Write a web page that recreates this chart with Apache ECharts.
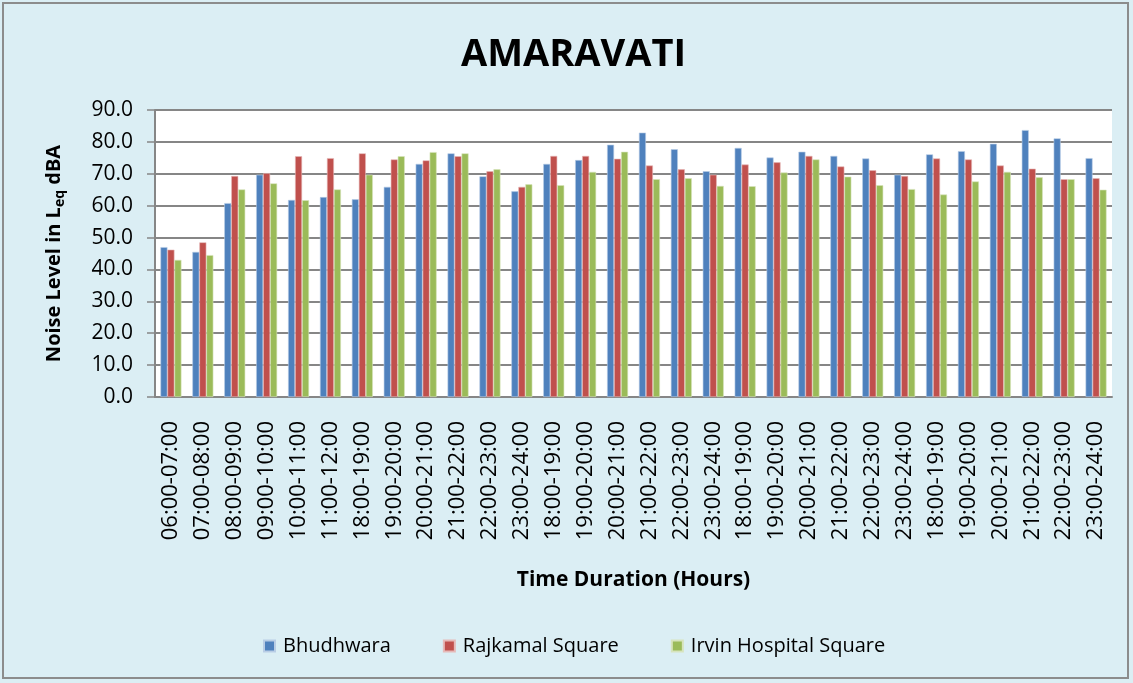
<!DOCTYPE html>
<html>
<head>
<meta charset="utf-8">
<script src="https://cdn.jsdelivr.net/npm/echarts@6/dist/echarts.min.js"></script>
<style>
  html, body { margin: 0; padding: 0; background: #dbeef4; }
  #chart { position: absolute; left: 2px; top: 2px; width: 1127px; height: 677px; border: 2px solid #8c8c8c; box-sizing: border-box; }
</style>
</head>
<body>
<div id="chart"></div>
<script>
(function() {
  var categories = [
    '06:00-07:00', '07:00-08:00', '08:00-09:00', '09:00-10:00', '10:00-11:00', '11:00-12:00',
    '18:00-19:00', '19:00-20:00', '20:00-21:00', '21:00-22:00', '22:00-23:00', '23:00-24:00',
    '18:00-19:00', '19:00-20:00', '20:00-21:00', '21:00-22:00', '22:00-23:00', '23:00-24:00',
    '18:00-19:00', '19:00-20:00', '20:00-21:00', '21:00-22:00', '22:00-23:00', '23:00-24:00',
    '18:00-19:00', '19:00-20:00', '20:00-21:00', '21:00-22:00', '22:00-23:00', '23:00-24:00'
  ];
  var bhudhwara = [47.0, 45.5, 60.8, 69.7, 61.8, 62.7, 62.0, 65.9, 73.1, 76.4, 69.2, 64.5,
    73.1, 74.3, 79.1, 82.9, 77.7, 70.8, 78.1, 75.1, 76.9, 75.6, 74.8, 69.7,
    76.1, 77.1, 79.4, 83.7, 81.1, 74.9];
  var rajkamal = [46.2, 48.5, 69.3, 70.2, 75.5, 74.9, 76.4, 74.5, 74.2, 75.5, 70.8, 65.9,
    75.6, 75.6, 74.7, 72.6, 71.4, 69.7, 72.9, 73.6, 75.6, 72.3, 71.1, 69.3,
    74.8, 74.5, 72.6, 71.6, 68.3, 68.6];
  var irvin = [43.0, 44.5, 65.1, 67.0, 61.7, 65.1, 69.7, 75.5, 76.8, 76.4, 71.4, 66.7,
    66.4, 70.6, 76.9, 68.3, 68.6, 66.2, 66.1, 70.4, 74.5, 69.1, 66.4, 65.2,
    63.5, 67.6, 70.6, 68.9, 68.3, 65.0];
  var seriesNames = ['Bhudhwara', 'Rajkamal Square', 'Irvin Hospital Square'];
  var colors = ['#4f81bd', '#c0504d', '#9bbb59'];
  var edges = ['#b9cde5', '#e6b9b8', '#d7e4bd'];

  var font = 'Open Sans';
  var axisGrey = '#868686';

  var chart = echarts.init(document.getElementById('chart'), null, { renderer: 'canvas' });

  var series = [bhudhwara, rajkamal, irvin].map(function(vals, i) {
    return {
      name: seriesNames[i],
      type: 'bar',
      data: vals,
      barWidth: 7,
      barGap: '0%',
      itemStyle: { color: colors[i], borderColor: edges[i], borderWidth: 0.6 }
    };
  });

  chart.setOption({
    animation: false,
    backgroundColor: '#dbeef4',
    color: colors,
    title: {
      text: 'AMARAVATI',
      left: 452,
      top: 27,
      textStyle: { fontFamily: font, fontWeight: 'bold', fontSize: 38, color: '#000' }
    },
    grid: { left: 151, right: 15, top: 106, bottom: 280 },
    legend: {
      data: seriesNames,
      bottom: 16,
      left: 254,
      itemWidth: 11,
      itemHeight: 11,
      itemGap: 52,
      icon: 'rect',
      textStyle: { fontFamily: font, fontSize: 20, color: '#000', padding: [0, 0, 0, 3] }
    },
    xAxis: {
      type: 'category',
      data: categories,
      name: 'Time Duration (Hours)',
      nameLocation: 'middle',
      nameGap: 173,
      nameTextStyle: { fontFamily: font, fontWeight: 'bold', fontSize: 21, color: '#000' },
      axisLine: { lineStyle: { color: axisGrey, width: 2 } },
      axisTick: { show: false },
      axisLabel: { rotate: 90, interval: 0, margin: 24, fontFamily: font, fontSize: 22, color: '#000' }
    },
    yAxis: {
      type: 'value',
      min: 0,
      max: 90,
      interval: 10,
      name: '{n|Noise Level in L}{s|eq}{n| dBA}',
      nameLocation: 'middle',
      nameGap: 88,
      nameTextStyle: {
        rich: {
          n: { fontFamily: font, fontWeight: 'bold', fontSize: 20, color: '#000' },
          s: { fontFamily: font, fontWeight: 'bold', fontSize: 14, color: '#000', padding: [12, 0, 0, 0] }
        }
      },
      axisLine: { show: true, lineStyle: { color: axisGrey, width: 2 } },
      axisTick: { show: true, length: 8, lineStyle: { color: axisGrey, width: 1.5 } },
      splitLine: { lineStyle: { color: axisGrey, width: 2 } },
      axisLabel: {
        margin: 22,
        fontFamily: font,
        fontSize: 21,
        color: '#000',
        formatter: function(v) { return v.toFixed(1); }
      }
    },
    series: series
  });

  // white plot area behind the bars
  var rect = chart.getModel().getComponent('grid').coordinateSystem.getRect();
  chart.setOption({
    graphic: [{
      type: 'rect',
      z: -1,
      shape: { x: rect.x, y: rect.y, width: rect.width, height: rect.height },
      style: { fill: '#fff' }
    }]
  });
})();
</script>
</body>
</html>
